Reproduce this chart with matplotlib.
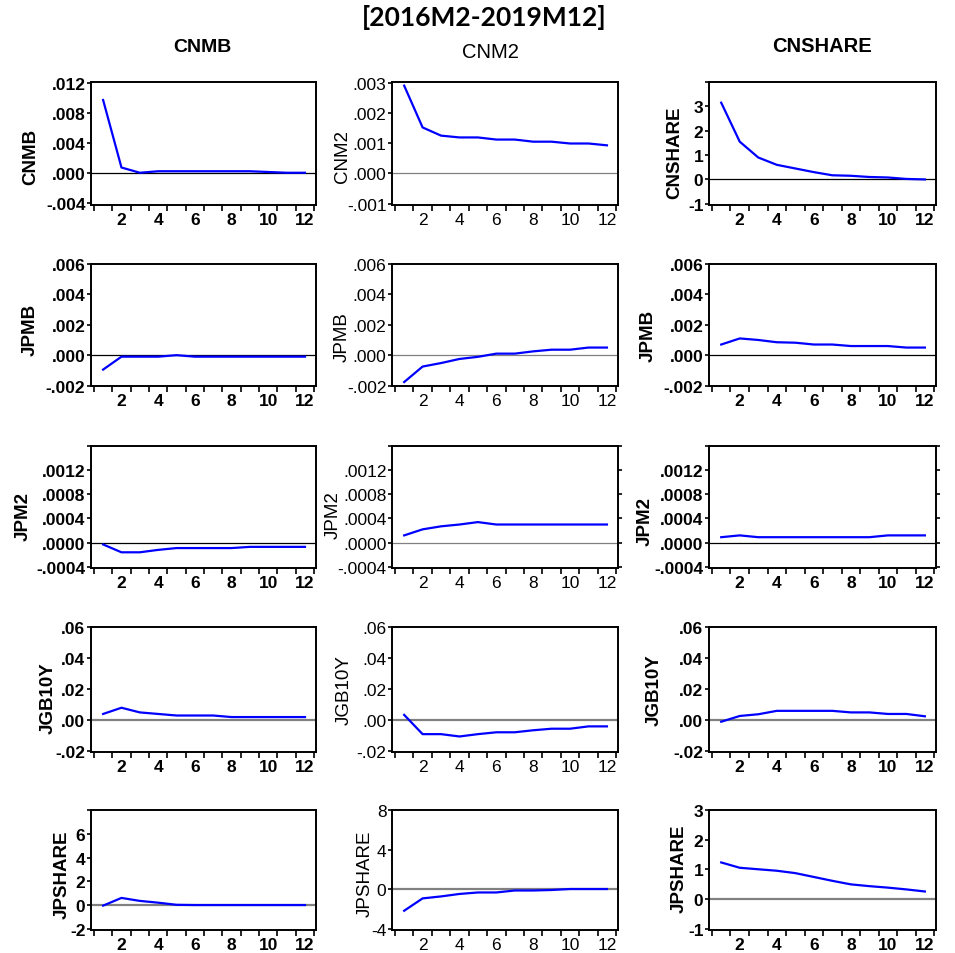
import matplotlib
matplotlib.use('Agg')
import matplotlib.pyplot as plt
import numpy as np

# impulse responses, 12 periods
periods = list(range(1, 13))

cols = ['CNMB', 'CNM2', 'CNSHARE']
rows = ['JPMB', 'JPM2', 'JGB10Y', 'JPSHARE']

# response of row variable to a shock in the column variable
resp_cnmb = [
    [0.0097, 0.0007, 0.0000, 0.0002, 0.0002, 0.0002, 0.0002, 0.0002, 0.0002, 0.0001, 0.0000, 0.0000],
    [-0.00095, -0.0001, -0.0001, -0.0001, 0.0000, -0.0001, -0.0001, -0.0001, -0.0001, -0.0001, -0.0001, -0.0001],
    [-0.00003, -0.00016, -0.00016, -0.00012, -0.00009, -0.00009, -0.00009, -0.00009, -0.00007, -0.00007, -0.00007, -0.00007],
    [0.004, 0.008, 0.005, 0.004, 0.003, 0.003, 0.003, 0.002, 0.002, 0.002, 0.002, 0.002],
    [-0.05, 0.6, 0.35, 0.2, 0.02, 0.0, 0.0, 0.0, 0.0, 0.0, 0.0, 0.0],
]
resp_cnm2 = [
    [0.0029, 0.00152, 0.00125, 0.00119, 0.00119, 0.00112, 0.00112, 0.00105, 0.00105, 0.00099, 0.00099, 0.00093],
    [-0.00177, -0.00075, -0.00052, -0.00025, -0.00011, 0.0001, 0.0001, 0.00025, 0.00036, 0.00036, 0.0005, 0.0005],
    [0.00012, 0.00022, 0.00027, 0.0003, 0.00034, 0.0003, 0.0003, 0.0003, 0.0003, 0.0003, 0.0003, 0.0003],
    [0.0034, -0.009, -0.009, -0.0105, -0.009, -0.0078, -0.0078, -0.0065, -0.0055, -0.0055, -0.004, -0.004],
    [-2.2, -0.95, -0.75, -0.5, -0.35, -0.35, -0.15, -0.15, -0.1, 0.0, 0.0, 0.0],
]
resp_cnshare = [
    [3.15, 1.55, 0.9, 0.6, 0.45, 0.3, 0.17, 0.15, 0.1, 0.08, 0.02, 0.0],
    [0.0007, 0.0011, 0.001, 0.00085, 0.00082, 0.0007, 0.0007, 0.0006, 0.0006, 0.0006, 0.0005, 0.0005],
    [0.00009, 0.00012, 0.00009, 0.00009, 0.00009, 0.00009, 0.00009, 0.00009, 0.00009, 0.00012, 0.00012, 0.00012],
    [-0.001, 0.0027, 0.0038, 0.006, 0.006, 0.006, 0.006, 0.005, 0.005, 0.004, 0.004, 0.0025],
    [1.23, 1.05, 1.0, 0.95, 0.87, 0.74, 0.61, 0.49, 0.43, 0.38, 0.32, 0.25],
]
responses = [resp_cnmb, resp_cnm2, resp_cnshare]

# y ticks and their labels per panel (row, col)
yticks = {
    (0, 0): ([-0.004, 0.0, 0.004, 0.008, 0.012], ['-.004', '.000', '.004', '.008', '.012']),
    (0, 1): ([-0.001, 0.0, 0.001, 0.002, 0.003], ['-.001', '.000', '.001', '.002', '.003']),
    (0, 2): ([-1, 0, 1, 2, 3, 4], ['-1', '0', '1', '2', '3', '']),
    (3, 0): ([-0.02, 0.0, 0.02, 0.04, 0.06], ['-.02', '.00', '.02', '.04', '.06']),
    (4, 0): ([-2, 0, 2, 4, 6, 8], ['-2', '0', '2', '4', '6', '']),
    (4, 1): ([-4, 0, 4, 8], ['-4', '0', '4', '8']),
    (4, 2): ([-1, 0, 1, 2, 3], ['-1', '0', '1', '2', '3']),
}
for c in range(3):
    yticks[(1, c)] = ([-0.002, 0.0, 0.002, 0.004, 0.006], ['-.002', '.000', '.002', '.004', '.006'])
    yticks[(2, c)] = ([-0.0004, 0.0, 0.0004, 0.0008, 0.0012, 0.0016],
                      ['-.0004', '.0000', '.0004', '.0008', '.0012', ''])
yticks[(3, 1)] = yticks[(3, 0)]
yticks[(3, 2)] = yticks[(3, 0)]

ylims = {
    (0, 0): (-0.0043, 0.0121), (0, 1): (-0.00104, 0.00302), (0, 2): (-1.05, 4.0),
    (3, 0): (-0.0205, 0.06), (3, 1): (-0.0205, 0.06), (3, 2): (-0.0205, 0.06),
    (4, 0): (-2.1, 8.0), (4, 1): (-4.15, 8.0), (4, 2): (-1.05, 3.0),
}
for c in range(3):
    ylims[(1, c)] = (-0.00203, 0.006)
    ylims[(2, c)] = (-0.00042, 0.0016)

W, H = 955, 954
fig = plt.figure(figsize=(W / 100, H / 100), dpi=100)

# axes boxes in pixels: left, right per column; top, bottom per row
col_x = [(91, 316), (392, 618), (709, 936)]
row_y = [(83, 206), (265, 387), (447, 569), (628, 753), (811, 931)]

# y label placement (axes fraction)
lab_pos = {
    (0, 0): (-0.27, 0.40), (0, 1): (-0.22, 0.40), (0, 2): (-0.15, 0.43),
    (1, 0): (-0.27, 0.47), (1, 1): (-0.22, 0.41), (1, 2): (-0.27, 0.42),
    (2, 0): (-0.30, 0.43), (2, 1): (-0.26, 0.44), (2, 2): (-0.28, 0.39),
    (3, 0): (-0.19, 0.44), (3, 1): (-0.21, 0.50), (3, 2): (-0.24, 0.50),
    (4, 0): (-0.13, 0.47), (4, 1): (-0.12, 0.48), (4, 2): (-0.13, 0.52),
}

fam = ['Liberation Sans', 'DejaVu Sans']

for r in range(5):
    for c in range(3):
        x0, x1 = col_x[c]
        y0, y1 = row_y[r]
        ax = fig.add_axes([x0 / W, 1 - y1 / H, (x1 - x0) / W, (y1 - y0) / H])
        weight = 'normal' if c == 1 else 'bold'
        fs = 12.5

        zc = '#808080' if (r >= 3 or c == 1) else 'black'
        zw = 1.6 if r >= 3 else 0.9
        ax.axhline(0, color=zc, lw=zw, zorder=1)
        ax.plot(periods, responses[c][r], color='#0000ff', lw=1.6, zorder=2)

        ax.set_xlim(0.34, 12.6)
        ax.set_ylim(*ylims[(r, c)])

        ax.set_xticks(np.arange(0.5, 13, 1.0))
        ax.set_xticklabels([])
        ax.set_xticks([2, 4, 6, 8, 10, 12], minor=True)
        ax.set_xticklabels(['2', '4', '6', '8', '10', '12'], minor=True,
                           family=fam, weight=weight, fontsize=fs)
        ax.tick_params(axis='x', which='major', direction='out', length=4, width=1.2)
        ax.tick_params(axis='x', which='minor', length=0, pad=5)

        tv, tl = yticks[(r, c)]
        ax.set_yticks(tv)
        ax.set_yticklabels(tl, family=fam, weight=weight, fontsize=fs)
        ax.tick_params(axis='y', direction='out', length=3, width=1.2, pad=1)
        if r == 2 and c > 0:
            ax.tick_params(axis='y', right=True)

        for s in ax.spines.values():
            s.set_linewidth(1.4)

        name = cols[c] if r == 0 else rows[r - 1]
        lx, ly = lab_pos[(r, c)]
        ax.text(lx, ly, name, transform=ax.transAxes, rotation=90,
                ha='center', va='center', family=fam, weight=weight, fontsize=13.5)

# column titles
fig.text(202 / W, 1 - 47 / H, 'CNMB', ha='center', va='center',
         family=fam, weight='bold', fontsize=14)
fig.text(490 / W, 1 - 52 / H, 'CNM2', ha='center', va='center',
         family=fam, fontsize=14.5)
fig.text(822 / W, 1 - 46 / H, 'CNSHARE', ha='center', va='center',
         family=fam, weight='bold', fontsize=14.5)

fig.text(484 / W, 1 - 17 / H, '[2016M2-2019M12]', ha='center', va='center',
         family=['Lato', 'DejaVu Sans'], weight='bold', fontsize=19)

fig.savefig('out.png', dpi=100)
